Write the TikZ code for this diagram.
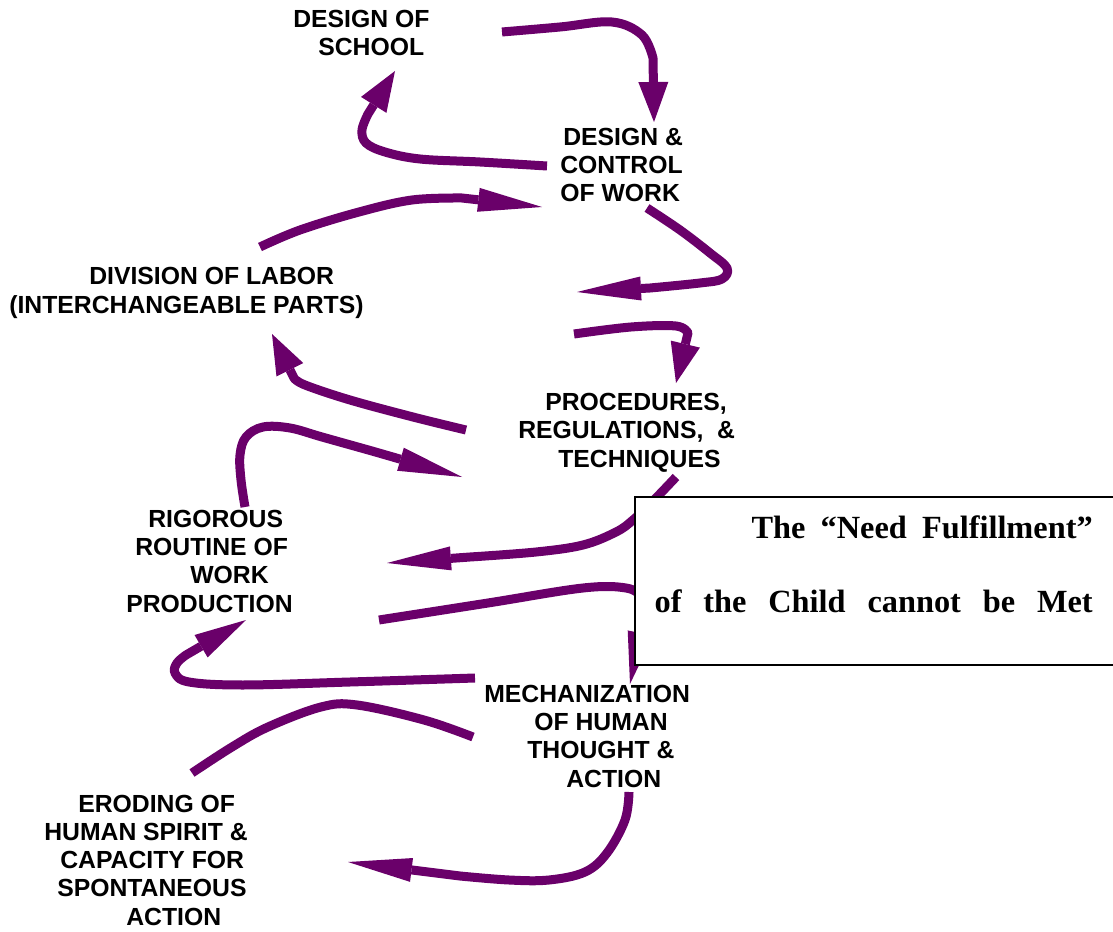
\documentclass[tikz,border=0pt]{standalone}
\usepackage{fontspec}
\setmainfont{Liberation Serif}
\setsansfont{Liberation Sans}
\usetikzlibrary{arrows.meta}
\definecolor{plum}{RGB}{106,0,106}

\tikzset{
  flow/.style={draw=plum, line width=0.225cm, line join=round},
  headS/.style={-{Triangle[length=1.0cm, width=0.75cm, line width=0pt]}},
  headM/.style={-{Triangle[length=1.3cm, width=0.65cm, line width=0pt]}},
  headL/.style={-{Triangle[length=1.6cm, width=0.6cm, line width=0pt]}},
  % multi-line labels sit on the baseline of their last line
  lab/.style={font=\sffamily\bfseries\fontsize{17.6}{19.92}\selectfont,
              align=left, inner sep=0pt, anchor=base west},
  boxtext/.style={font=\rmfamily\bfseries\fontsize{23}{52.6}\selectfont,
              align=right, inner sep=0pt, anchor=base east}
}

\begin{document}
\begin{tikzpicture}[x=0.025cm, y=-0.025cm]
\useasboundingbox (0,0) rectangle (1113,932);

% arrow end points
\coordinate (a1s) at (502,32);  \coordinate (a1e) at (654,122);
\coordinate (a2s) at (547,166); \coordinate (a2e) at (395,71);
\coordinate (a3s) at (260,247); \coordinate (a3e) at (542,207);
\coordinate (a4s) at (647,208); \coordinate (a4e) at (577,292);
\coordinate (a5s) at (574,334); \coordinate (a5e) at (676,383);
\coordinate (a6s) at (466,430); \coordinate (a6e) at (272,334);
\coordinate (a7s) at (245,507); \coordinate (a7e) at (462,477);
\coordinate (a8s) at (676,477); \coordinate (a8e) at (387,563);
\coordinate (a9s) at (379,620); \coordinate (a9e) at (630,684);
\coordinate (a10s) at (475,678); \coordinate (a10e) at (246,620);
\coordinate (a11s) at (473,737); \coordinate (a11e) at (192,773);
\coordinate (a12s) at (629,792); \coordinate (a12e) at (348,862);

% the loops of arrows
\draw[flow, headS] plot[smooth, tension=0.6] coordinates
  {(a1s) (560,27) (612,22) (642,35) (653,58)} -- (a1e);
\draw[flow, headS] plot[smooth, tension=0.6] coordinates
  {(a2s) (480,162) (420,159) (385,152) (366,143) (362,130) (368,114)} -- (a2e);
\draw[flow, headL] plot[smooth, tension=0.6] coordinates
  {(a3s) (300,230) (359,212) (412,200) (462,198)} -- (a3e);
\draw[flow, headL] plot[smooth, tension=0.6] coordinates
  {(a4s) (680,230) (710,253) (727,268) (722,279) (700,283) (650,288)} -- (a4e);
\draw[flow, headS] plot[smooth, tension=0.6] coordinates
  {(a5s) (631,327) (676,326) (688,333)} -- (a5e);
\draw[flow, headS] plot[smooth, tension=0.6] coordinates
  {(a6s) (413,417) (350,400) (305,385) (294,378)} -- (a6e);
\draw[flow, headL] plot[smooth, tension=0.6] coordinates
  {(a7s) (241,480) (240,455) (246,437) (263,427) (290,428) (322,437) (372,451)} -- (a7e);
\draw[flow, headL] plot[smooth, tension=0.6] coordinates
  {(a8s) (654,500) (633,520) (616,532) (583,545) (536,552) (470,557)} -- (a8e);
\draw[flow, headM] plot[smooth, tension=0.6] coordinates
  {(a9s) (488,603) (583,588) (626,588) (642,597) (646,606)} -- (a9e);
\draw[flow, headM] plot[smooth, tension=0.6] coordinates
  {(a10s) (350,682) (243,685) (189,682) (175,673) (177,663) (186,655)} -- (a10e);
\draw[flow] plot[smooth, tension=0.6] coordinates
  {(a11s) (424,720) (357,705) (321,707) (268,727) (232,747) (a11e)};
\draw[flow, headL] plot[smooth, tension=0.6] coordinates
  {(a12s) (625,820) (607,853) (585,872) (549,880) (509,880) (460,876)} -- (a12e);

% the framed statement, drawn over the arrows behind it
\fill[white] (635,497) rectangle (1113,665);
\draw[line width=0.06cm] (1113,497) -- (635,497) -- (635,665) -- (1113,665);
\node[boxtext] (need) at (1093,612)
  {\makebox[8.525cm][s]{The “Need Fulfillment”}\\
   \makebox[10.95cm][s]{of the Child cannot be Met}};

% labels
\node[lab] (school) at (293,56)
  {DESIGN OF\\\hspace*{0.625cm}SCHOOL};
\node[lab] (control) at (560,202)
  {\hspace*{0.075cm}DESIGN \&\\CONTROL\\OF WORK};
\node[lab] (labor) at (9,313)
  {\hspace*{2.0cm}DIVISION OF LABOR\\(INTERCHANGEABLE PARTS)};
\node[lab] (proc) at (518,467)
  {\hspace*{0.675cm}PROCEDURES,\\REGULATIONS,\ \ \&\\\hspace*{1.0cm}TECHNIQUES};
\node[lab] (routine) at (126,612)
  {\hspace*{0.55cm}RIGOROUS\\\hspace*{0.225cm}ROUTINE OF\\\hspace*{1.6cm}WORK\\PRODUCTION};
\node[lab] (mech) at (484,787)
  {MECHANIZATION\\\hspace*{1.25cm}OF HUMAN\\\hspace*{1.075cm}THOUGHT \&\\\hspace*{2.05cm}ACTION};
\node[lab] (erode) at (44,925)
  {\hspace*{0.85cm}ERODING OF\\HUMAN SPIRIT \&\\\hspace*{0.4cm}CAPACITY FOR\\\hspace*{0.325cm}SPONTANEOUS\\\hspace*{2.05cm}ACTION};
\end{tikzpicture}
\end{document}
